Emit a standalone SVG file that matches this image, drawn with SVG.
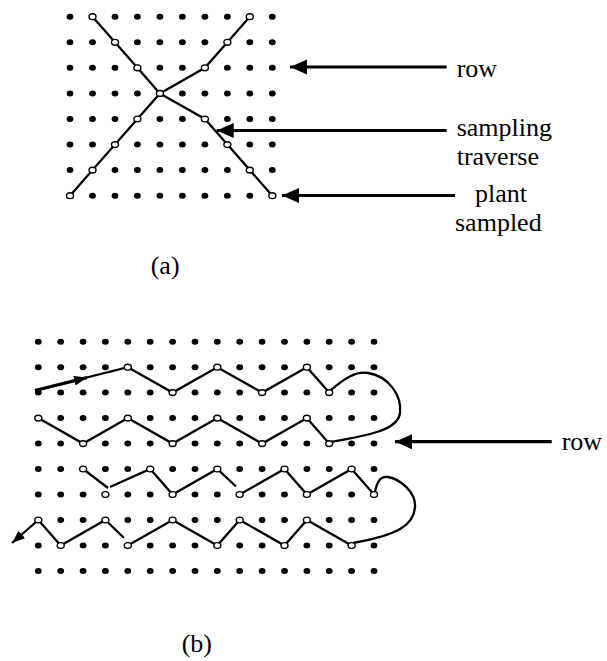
<svg xmlns="http://www.w3.org/2000/svg" xmlns:xlink="http://www.w3.org/1999/xlink" width="607" height="661" viewBox="0 0 607 661">
<style>
.lbl{font-family:"Liberation Serif","Times New Roman",serif;font-size:26px;fill:#000}
.trav{fill:none;stroke:#000;stroke-width:2.3;stroke-linejoin:miter}
.arr{fill:none;stroke:#000;stroke-width:3.2}
.open{fill:#fff;stroke:#000;stroke-width:1.4}
.dot{fill:#000}
</style>
<defs>
<ellipse id="d" cx="0" cy="0" rx="3.4" ry="3" class="dot"/>
<g id="rowA">
<use xlink:href="#d" x="70"/><use xlink:href="#d" x="92.5"/><use xlink:href="#d" x="115"/><use xlink:href="#d" x="137.4"/><use xlink:href="#d" x="159.9"/>
<use xlink:href="#d" x="182.4"/><use xlink:href="#d" x="204.9"/><use xlink:href="#d" x="227.4"/><use xlink:href="#d" x="249.8"/><use xlink:href="#d" x="272.3"/>
</g>
<g id="rowB">
<use xlink:href="#d" x="38.3"/><use xlink:href="#d" x="60.7"/><use xlink:href="#d" x="83.1"/><use xlink:href="#d" x="105.4"/>
<use xlink:href="#d" x="127.8"/><use xlink:href="#d" x="150.2"/><use xlink:href="#d" x="172.6"/><use xlink:href="#d" x="195"/>
<use xlink:href="#d" x="217.3"/><use xlink:href="#d" x="239.7"/><use xlink:href="#d" x="262.1"/><use xlink:href="#d" x="284.5"/>
<use xlink:href="#d" x="306.9"/><use xlink:href="#d" x="329.2"/><use xlink:href="#d" x="351.6"/><use xlink:href="#d" x="374"/>
</g>
<ellipse id="o" cx="0" cy="0" rx="3.5" ry="2.9" class="open"/>
<marker id="big" markerUnits="userSpaceOnUse" markerWidth="18" markerHeight="16" refX="17" refY="7.5" orient="auto">
<path d="M0,0 L17,7.5 L0,15 z" fill="#000"/>
</marker>
<marker id="small" markerUnits="userSpaceOnUse" markerWidth="14" markerHeight="11" refX="13" refY="5" orient="auto">
<path d="M0,0 L13,5 L0,10 z" fill="#000"/>
</marker>
</defs>

<g id="grid-a">
<use xlink:href="#rowA" y="16.7"/><use xlink:href="#rowA" y="42.3"/><use xlink:href="#rowA" y="67.8"/><use xlink:href="#rowA" y="93.4"/>
<use xlink:href="#rowA" y="119"/><use xlink:href="#rowA" y="144.6"/><use xlink:href="#rowA" y="170.1"/><use xlink:href="#rowA" y="195.7"/>
</g>
<g id="grid-b">
<use xlink:href="#rowB" y="341.7"/><use xlink:href="#rowB" y="367.2"/><use xlink:href="#rowB" y="392.6"/><use xlink:href="#rowB" y="418.1"/><use xlink:href="#rowB" y="443.6"/>
<use xlink:href="#rowB" y="469"/><use xlink:href="#rowB" y="494.5"/><use xlink:href="#rowB" y="520"/><use xlink:href="#rowB" y="545.5"/><use xlink:href="#rowB" y="570.9"/>
</g>

<g id="connectors">
<polyline class="trav" points="92.5,16.7 115,42.3 137.4,67.8 159.9,93.4 137.4,119 115,144.6 92.5,170.1 70,195.7"/>
<polyline class="trav" points="249.8,16.7 227.4,42.3 204.9,67.8 159.9,93.4 204.9,119 227.4,144.6 249.8,170.1 272.3,195.7"/>
<line class="arr" x1="446.7" y1="67" x2="290" y2="67" marker-end="url(#big)"/>
<line class="arr" x1="446.7" y1="130.5" x2="216.7" y2="130.5" marker-end="url(#big)"/>
<line class="arr" x1="455" y1="195.5" x2="282" y2="195.5" marker-end="url(#big)"/>

<polyline class="trav" points="35,390.5 127.8,367.2 172.6,392.6 217.3,367.2 262.1,392.6 306.9,367.2 329.2,392.6"/>
<line class="arr" x1="35" y1="390.5" x2="87" y2="377.6" stroke-width="3" marker-end="url(#small)"/>
<path class="trav" d="M331,390 C345,378 356,371 368,373 C388,376 402,395 400,413 C398,430 370,435 331,442"/>
<polyline class="trav" points="329.2,443.6 306.9,418.1 262.1,443.6 217.3,418.1 172.6,443.6 127.8,418.1 83.1,443.6 38.3,418.1"/>
<polyline class="trav" points="83.1,469 108,488"/>
<polyline class="trav" points="110,487 150.2,469 172.6,494.5 217.3,469 236,486.5"/>
<polyline class="trav" points="239.7,494.5 284.5,469 306.9,494.5 351.6,469 374,494.5"/>
<path class="trav" d="M375,492 C377,482 380,476 388,477 C400,479 416,492 415,507 C414,525 398,535 353,543"/>
<polyline class="trav" points="351.6,545.5 306.9,520 284.5,545.5 239.7,520 217.3,545.5 172.6,520 127.8,545.5"/>
<polyline class="trav" points="124,538 105.4,520 60.7,545.5 38.3,520"/>
<line class="trav" x1="38.3" y1="520" x2="12" y2="543" stroke-width="2.6" marker-end="url(#small)"/>
<line class="arr" x1="551.7" y1="441.7" x2="395" y2="441.7" marker-end="url(#big)"/>
</g>

<g id="sampled-a">
<use xlink:href="#o" x="92.5" y="16.7"/><use xlink:href="#o" x="249.8" y="16.7"/>
<use xlink:href="#o" x="115" y="42.3"/><use xlink:href="#o" x="227.4" y="42.3"/>
<use xlink:href="#o" x="137.4" y="67.8"/><use xlink:href="#o" x="204.9" y="67.8"/>
<use xlink:href="#o" x="159.9" y="93.4"/>
<use xlink:href="#o" x="137.4" y="119"/><use xlink:href="#o" x="204.9" y="119"/>
<use xlink:href="#o" x="115" y="144.6"/><use xlink:href="#o" x="227.4" y="144.6"/>
<use xlink:href="#o" x="92.5" y="170.1"/><use xlink:href="#o" x="249.8" y="170.1"/>
<use xlink:href="#o" x="70" y="195.7"/><use xlink:href="#o" x="272.3" y="195.7"/>
</g>

<g id="sampled-b">
<use xlink:href="#o" x="127.8" y="367.2"/><use xlink:href="#o" x="217.3" y="367.2"/><use xlink:href="#o" x="306.9" y="367.2"/>
<use xlink:href="#o" x="172.6" y="392.6"/><use xlink:href="#o" x="262.1" y="392.6"/><use xlink:href="#o" x="329.2" y="392.6"/>
<use xlink:href="#o" x="38.3" y="418.1"/><use xlink:href="#o" x="127.8" y="418.1"/><use xlink:href="#o" x="217.3" y="418.1"/><use xlink:href="#o" x="306.9" y="418.1"/>
<use xlink:href="#o" x="83.1" y="443.6"/><use xlink:href="#o" x="172.6" y="443.6"/><use xlink:href="#o" x="262.1" y="443.6"/><use xlink:href="#o" x="329.2" y="443.6"/>
<use xlink:href="#o" x="83.1" y="469"/><use xlink:href="#o" x="150.2" y="469"/><use xlink:href="#o" x="217.3" y="469"/><use xlink:href="#o" x="284.5" y="469"/><use xlink:href="#o" x="351.6" y="469"/>
<use xlink:href="#o" x="105.4" y="494.5"/><use xlink:href="#o" x="172.6" y="494.5"/><use xlink:href="#o" x="239.7" y="494.5"/><use xlink:href="#o" x="306.9" y="494.5"/><use xlink:href="#o" x="374" y="494.5"/>
<use xlink:href="#o" x="38.3" y="520"/><use xlink:href="#o" x="105.4" y="520"/><use xlink:href="#o" x="172.6" y="520"/><use xlink:href="#o" x="239.7" y="520"/><use xlink:href="#o" x="306.9" y="520"/>
<use xlink:href="#o" x="60.7" y="545.5"/><use xlink:href="#o" x="127.8" y="545.5"/><use xlink:href="#o" x="217.3" y="545.5"/><use xlink:href="#o" x="284.5" y="545.5"/><use xlink:href="#o" x="351.6" y="545.5"/>
</g>

<g id="labels">
<text class="lbl" x="456.7" y="76.7">row</text>
<text class="lbl" x="456.7" y="135.5">sampling</text>
<text class="lbl" x="456.7" y="164.5">traverse</text>
<text class="lbl" x="475" y="201.7">plant</text>
<text class="lbl" x="455" y="230.5">sampled</text>
<text class="lbl" x="150.7" y="274">(a)</text>
<text class="lbl" x="561.7" y="450">row</text>
<text class="lbl" x="181.7" y="652">(b)</text>
</g>
</svg>
